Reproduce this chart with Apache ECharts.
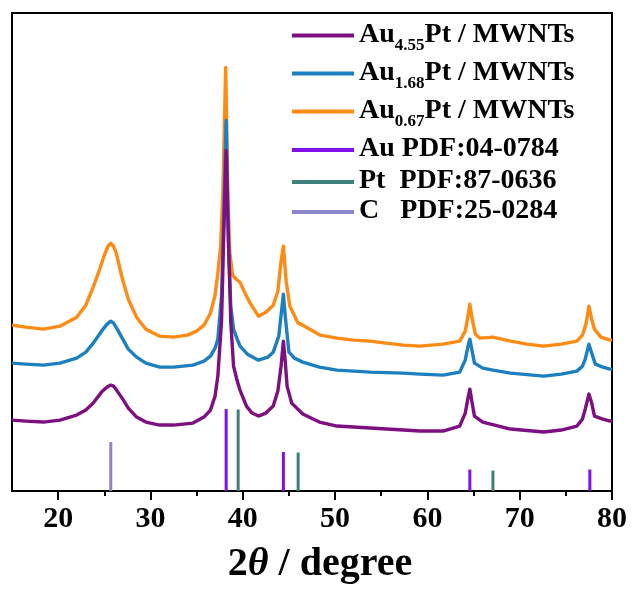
<!DOCTYPE html>
<html><head><meta charset="utf-8">
<script src="https://cdn.jsdelivr.net/npm/echarts@6/dist/echarts.min.js"></script>
<style>html,body{margin:0;padding:0;background:#fff}#c{width:632px;height:590px}</style>
</head><body><div id="c"></div>
<script>
// ---- data (2θ in degrees, intensity in arbitrary units) ----
const seriesNames = ['Au4.55Pt / MWNTs','Au1.68Pt / MWNTs','Au0.67Pt / MWNTs','Au PDF:04-0784','Pt PDF:87-0636','C PDF:25-0284'];
const au455 = [[15,71],[16.5,70],[18.4,69],[20.2,71],[22.0,76],[23.0,81],[23.8,88],[24.7,99],[25.3,104],[25.7,106],[26.0,105],[26.4,100],[27.0,92],[27.6,83],[28.5,74],[29.5,69],[31.0,66],[32.5,66],[34.6,68],[35.8,74],[36.5,81],[37.0,95],[37.3,115],[37.7,170],[37.95,260],[38.2,341],[38.45,250],[38.7,170],[39.0,125],[39.4,110],[39.7,101],[40.4,85],[41.0,78],[41.7,75],[42.5,78],[43.3,85],[43.8,100],[44.15,125],[44.4,150],[44.6,130],[44.8,105],[45.3,88],[46.5,77],[48.3,69],[50.2,65],[53.8,63],[57.4,61],[59.2,60],[61.7,60],[63.5,65],[64.1,78],[64.4,93],[64.6,102],[64.85,88],[65.1,75],[66.0,69],[69.0,62],[72.6,59],[74.5,61],[76.2,65],[76.8,72],[77.1,82],[77.5,97],[77.8,88],[78.1,75],[79.0,72],[79.8,70],[80,70]];
const au168 = [[15,128],[16.5,127],[18.4,126],[20.2,128],[22.0,133],[23.0,139],[23.8,148],[24.7,160],[25.3,167],[25.7,170],[26.0,168],[26.4,162],[27.0,152],[27.6,142],[28.5,134],[29.5,128],[31.0,124],[32.5,124],[34.6,126],[35.8,130],[36.5,135],[37.0,143],[37.3,152],[37.7,195],[37.95,280],[38.2,371],[38.45,250],[38.7,185],[39.0,162],[39.4,152],[39.7,145],[40.5,137],[41.7,131],[42.7,134],[43.3,139],[43.9,155],[44.2,180],[44.4,197],[44.6,175],[45.0,139],[45.6,133],[46.5,129],[48.3,124],[50.2,121],[53.8,119],[57.4,118],[59.2,117],[61.7,116],[63.5,119],[64.1,131],[64.4,145],[64.6,152],[64.85,140],[65.1,128],[66.0,123],[67.1,121],[69.0,118],[72.6,115],[74.5,117],[76.2,120],[76.8,125],[77.1,132],[77.5,147],[77.8,138],[78.2,127],[79.0,124],[79.8,122],[80,122]];
const au067 = [[15,166],[16.5,164],[18.4,162],[20.2,165],[22.0,174],[23.0,186],[23.8,204],[24.5,222],[25.0,236],[25.4,245],[25.7,248],[26.0,245],[26.3,238],[26.6,226],[27.0,211],[27.6,192],[28.5,174],[29.5,162],[31.0,155],[32.5,154],[34.0,156],[35.0,160],[35.8,166],[36.5,178],[37.0,196],[37.3,218],[37.6,245],[37.85,300],[38.15,424],[38.4,290],[38.6,238],[38.9,216],[39.3,212],[39.7,209],[40.2,199],[40.8,188],[41.7,175],[42.5,179],[43.3,186],[43.8,200],[44.15,230],[44.4,245],[44.7,210],[45.1,185],[46.0,168],[46.5,166],[48.4,156],[50.2,153],[52.0,151],[53.8,150],[55.5,148],[57.4,146],[59.2,145],[61.7,147],[63.5,150],[64.1,160],[64.4,175],[64.6,187],[64.9,170],[65.2,157],[65.7,153],[67.1,154],[69.0,150],[70.8,147],[72.6,145],[74.5,147],[76.2,150],[76.8,156],[77.2,168],[77.5,185],[77.8,172],[78.1,162],[78.8,154],[79.8,151],[80,151]];
const auPdf = [[38.2,82],[44.4,39],[64.6,21.5],[77.6,21.5]];
const ptPdf = [[39.5,81.5],[46.0,38.5],[67.1,20.5]];
const cPdf = [[25.7,49]];
const majorTicks = [20,30,40,50,60,70,80];
const minorTicks = [25,35,45,55,65,75];

const colors = ['#7d0f80','#1b7fc0','#ff8a14','#7f10ea','#3f7f7c','#8a86c8'];
const legendLabels = {
  'Au4.55Pt / MWNTs':'{m|Au}{s|4.55}{m|Pt / MWNTs}',
  'Au1.68Pt / MWNTs':'{m|Au}{s|1.68}{m|Pt / MWNTs}',
  'Au0.67Pt / MWNTs':'{m|Au}{s|0.67}{m|Pt / MWNTs}',
  'Au PDF:04-0784':'{m|Au PDF:04-0784}',
  'Pt PDF:87-0636':'{m|Pt  PDF:87-0636}',
  'C PDF:25-0284':'{m|C   PDF:25-0284}'
};
const legendTops = [15.5, 53.5, 91.5, 130, 162, 192];

const FONT = 'Liberation Serif';
const chart = echarts.init(document.getElementById('c'), null, {renderer:'canvas'});

function stickSeries(name, data, color){
  return {
    name, type:'custom', data, color, z:3,
    encode:{x:0,y:1},
    itemStyle:{color},
    renderItem:(params, api)=>{
      const p0 = api.coord([api.value(0), 0]);
      const p1 = api.coord([api.value(0), api.value(1)]);
      return {type:'line', shape:{x1:p0[0], y1:p0[1], x2:p1[0], y2:p1[1]},
              style:{stroke:color, lineWidth:3}};
    }
  };
}
function lineSeries(name, data, color){
  return {name, type:'line', data, color, showSymbol:false, symbol:'none',
          lineStyle:{width:3.4, color, join:'round'}, itemStyle:{color}, z:2, animation:false};
}

const legends = seriesNames.map((n,i)=>({
  data:[{name:n, icon:'rect'}], left:287, top:legendTops[i],
  itemWidth:62, itemHeight:4, itemGap:0, selectedMode:false,
  formatter:(name)=>legendLabels[name],
  textStyle:{
    color:'#000', fontFamily:FONT, fontWeight:'bold', fontSize:28,
    rich:{
      m:{fontFamily:FONT, fontWeight:'bold', fontSize:28, color:'#000', lineHeight:30, verticalAlign:'top'},
      s:{fontFamily:FONT, fontWeight:'bold', fontSize:17, color:'#000', lineHeight:16, verticalAlign:'top', padding:[17,0,0,0]}
    }
  }
}));

chart.setOption({
  animation:false,
  backgroundColor:'#fff',
  grid:{left:12, right:20, top:13, bottom:98.5, show:true, borderColor:'#000', borderWidth:2, backgroundColor:'transparent'},
  legend: legends,
  xAxis:[{
    type:'value', min:15, max:80, interval:5,
    axisLine:{show:true, lineStyle:{color:'#000', width:2}},
    axisTick:{show:true, customValues:majorTicks, length:9, lineStyle:{color:'#000', width:2}},
    axisLabel:{show:true, customValues:majorTicks, margin:13, color:'#000', fontFamily:FONT, fontWeight:'bold', fontSize:30},
    splitLine:{show:false},
    name:'2{t|θ} / degree', nameLocation:'middle', nameGap:54,
    nameTextStyle:{color:'#000', fontFamily:FONT, fontWeight:'bold', fontSize:40, padding:[0,0,0,16],
      rich:{t:{fontFamily:FONT, fontStyle:'italic', fontWeight:'bold', fontSize:40, color:'#000'}}}
  },{
    type:'value', min:15, max:80, interval:5, position:'bottom', gridIndex:0,
    axisLine:{show:false},
    axisTick:{show:true, customValues:minorTicks, length:5, lineStyle:{color:'#000', width:2}},
    axisLabel:{show:false}, splitLine:{show:false}
  }],
  yAxis:{type:'value', min:0, max:478.5, show:true,
    axisLine:{show:true, lineStyle:{color:'#000', width:2}}, axisTick:{show:false}, axisLabel:{show:false}, splitLine:{show:false}},
  series:[
    lineSeries(seriesNames[2], au067, colors[2]),
    lineSeries(seriesNames[1], au168, colors[1]),
    lineSeries(seriesNames[0], au455, colors[0]),
    stickSeries(seriesNames[3], auPdf, colors[3]),
    stickSeries(seriesNames[4], ptPdf, colors[4]),
    stickSeries(seriesNames[5], cPdf, colors[5])
  ]
});
</script></body></html>
